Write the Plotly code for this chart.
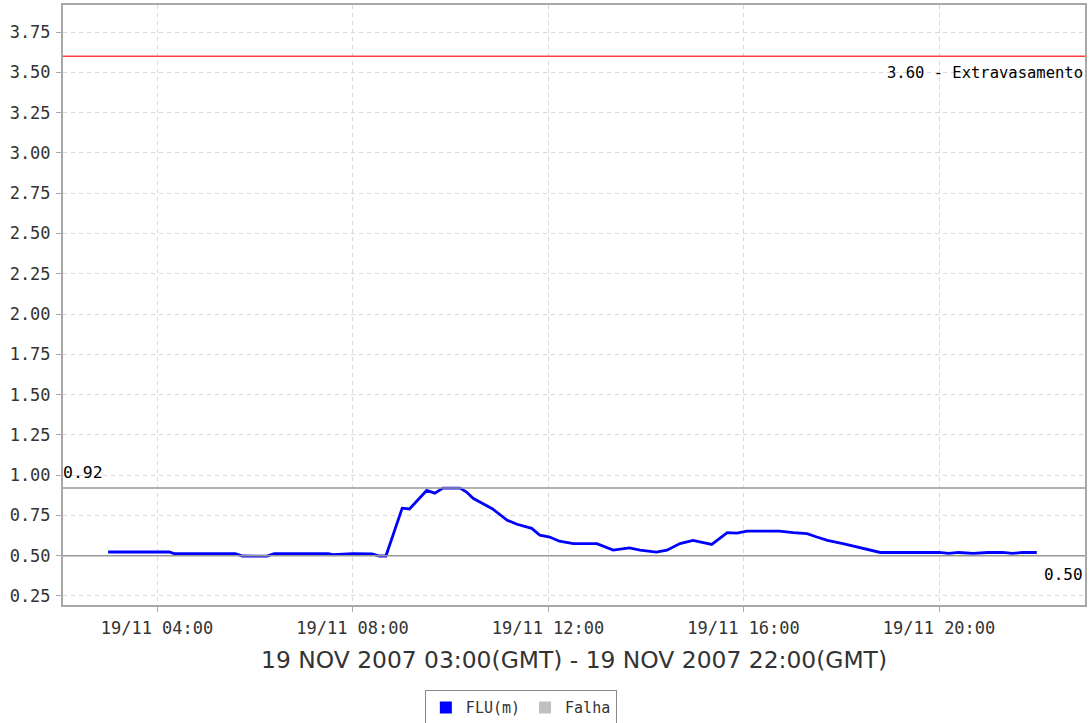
import plotly.graph_objects as go

# ---- data ----
times = ["03:00", "04:15", "04:21", "05:36", "05:45", "06:15", "06:24", "07:30", "07:36", "07:51",
         "08:00", "08:24", "08:33", "08:41", "09:01", "09:10", "09:31", "09:41", "09:51", "10:12",
         "10:20", "10:28", "10:40", "10:52", "11:10", "11:22", "11:40", "11:50", "12:02", "12:14",
         "12:31", "13:00", "13:20", "13:40", "13:53", "14:13", "14:26", "14:42", "14:58", "15:21",
         "15:40", "15:52", "16:04", "16:44", "17:01", "17:18", "17:30", "17:43", "18:02", "18:19",
         "18:48", "19:30", "20:00", "20:12", "20:24", "20:42", "21:00", "21:18", "21:30", "21:42",
         "22:00"]
flu = [0.523, 0.523, 0.513, 0.513, 0.498, 0.497, 0.513, 0.513, 0.506, 0.509,
       0.513, 0.511, 0.498, 0.498, 0.795, 0.790, 0.905, 0.888, 0.920, 0.920,
       0.895, 0.856, 0.825, 0.790, 0.720, 0.695, 0.670, 0.627, 0.616, 0.590,
       0.575, 0.575, 0.535, 0.548, 0.534, 0.522, 0.534, 0.575, 0.595, 0.570,
       0.643, 0.640, 0.653, 0.653, 0.643, 0.637, 0.616, 0.595, 0.575, 0.554,
       0.520, 0.520, 0.520, 0.514, 0.520, 0.514, 0.520, 0.520, 0.514, 0.520,
       0.520]
date = "2007-11-19"
overflow_level = 3.60
overflow_label = "3.60 - Extravasamento"
max_level = 0.92
min_level = 0.50
x_title = "19 NOV 2007 03:00(GMT) - 19 NOV 2007 22:00(GMT)"
x_range = ["2007-11-19 02:04:36", "2007-11-19 22:59:12"]
y_ticks = [0.25, 0.50, 0.75, 1.00, 1.25, 1.50, 1.75, 2.00, 2.25, 2.50, 2.75, 3.00, 3.25, 3.50, 3.75]
series_names = ["FLU(m)", "Falha"]

x = [f"{date} {t}" for t in times]

MONO = "DejaVu Sans Mono"
SANS = "DejaVu Sans"

fig = go.Figure()
fig.add_trace(go.Scatter(x=x, y=flu, mode="lines", line=dict(color="#0000ff", width=2.8),
                         name=series_names[0], showlegend=False))
# legend-only entries
fig.add_trace(go.Scatter(x=[None], y=[None], mode="markers", name=series_names[0],
                         marker=dict(symbol="square", size=10, color="#0000ff")))
fig.add_trace(go.Scatter(x=[None], y=[None], mode="markers", name=series_names[1],
                         marker=dict(symbol="square", size=10, color="#c0c0c0")))

fig.add_shape(type="line", xref="paper", x0=0, x1=1, yref="y", y0=overflow_level, y1=overflow_level,
              line=dict(color="#ff4040", width=1.5))
for lv in (max_level, min_level):
    fig.add_shape(type="line", xref="paper", x0=0, x1=1, yref="y", y0=lv, y1=lv,
                  line=dict(color="#999999", width=1.5))

fig.add_annotation(x=1, xref="paper", y=overflow_level, yref="y", text=overflow_label,
                   xanchor="right", yanchor="top", showarrow=False, yshift=-6, xshift=0,
                   font=dict(family=MONO, size=15.5, color="#000000"))
fig.add_annotation(x=0, xref="paper", y=max_level, yref="y", text=f"{max_level:.2f}",
                   xanchor="left", yanchor="bottom", showarrow=False, yshift=4, xshift=-2,
                   font=dict(family=MONO, size=16.5, color="#000000"))
fig.add_annotation(x=1, xref="paper", y=min_level, yref="y", text=f"{min_level:.2f}",
                   xanchor="right", yanchor="top", showarrow=False, yshift=-7, xshift=0,
                   font=dict(family=MONO, size=16, color="#000000"))
fig.add_annotation(x=0.5, xref="paper", y=-0.092, yref="paper", text=x_title,
                   xanchor="center", yanchor="middle", showarrow=False,
                   font=dict(family=SANS, size=23.4, color="#333333"))

axis_common = dict(showline=True, mirror=True, linecolor="#a8a8a8", linewidth=2,
                   showgrid=True, gridcolor="#d8d8d8", griddash="4px,4px", gridwidth=1,
                   ticks="outside", ticklen=5, tickcolor="#a8a8a8", zeroline=False,
                   tickfont=dict(family=MONO, size=17, color="#333333"))

fig.update_xaxes(type="date", range=x_range, tickformat="%d/%m %H:%M",
                 tick0=f"{date} 00:00", dtick=4 * 3600 * 1000, ticklabelstandoff=2, **axis_common)
fig.update_yaxes(range=[0.194, 3.918], tickvals=y_ticks, ticktext=[f"{v:.2f}" for v in y_ticks],
                 ticklabelstandoff=2, **axis_common)

fig.update_layout(
    width=1090, height=723,
    margin=dict(l=63, r=5, t=5, b=118, autoexpand=False),
    paper_bgcolor="white", plot_bgcolor="white",
    legend=dict(orientation="h", x=0.448, xanchor="center", y=-0.142, yanchor="top",
                bordercolor="#888888", borderwidth=1, font=dict(family=MONO, size=15, color="#333333"),
                itemsizing="constant", tracegroupgap=0, itemwidth=30),
)

fig.write_html("out.html", config={"displayModeBar": False},
               post_script="document.body.style.margin='0';document.body.style.overflow='hidden';")
